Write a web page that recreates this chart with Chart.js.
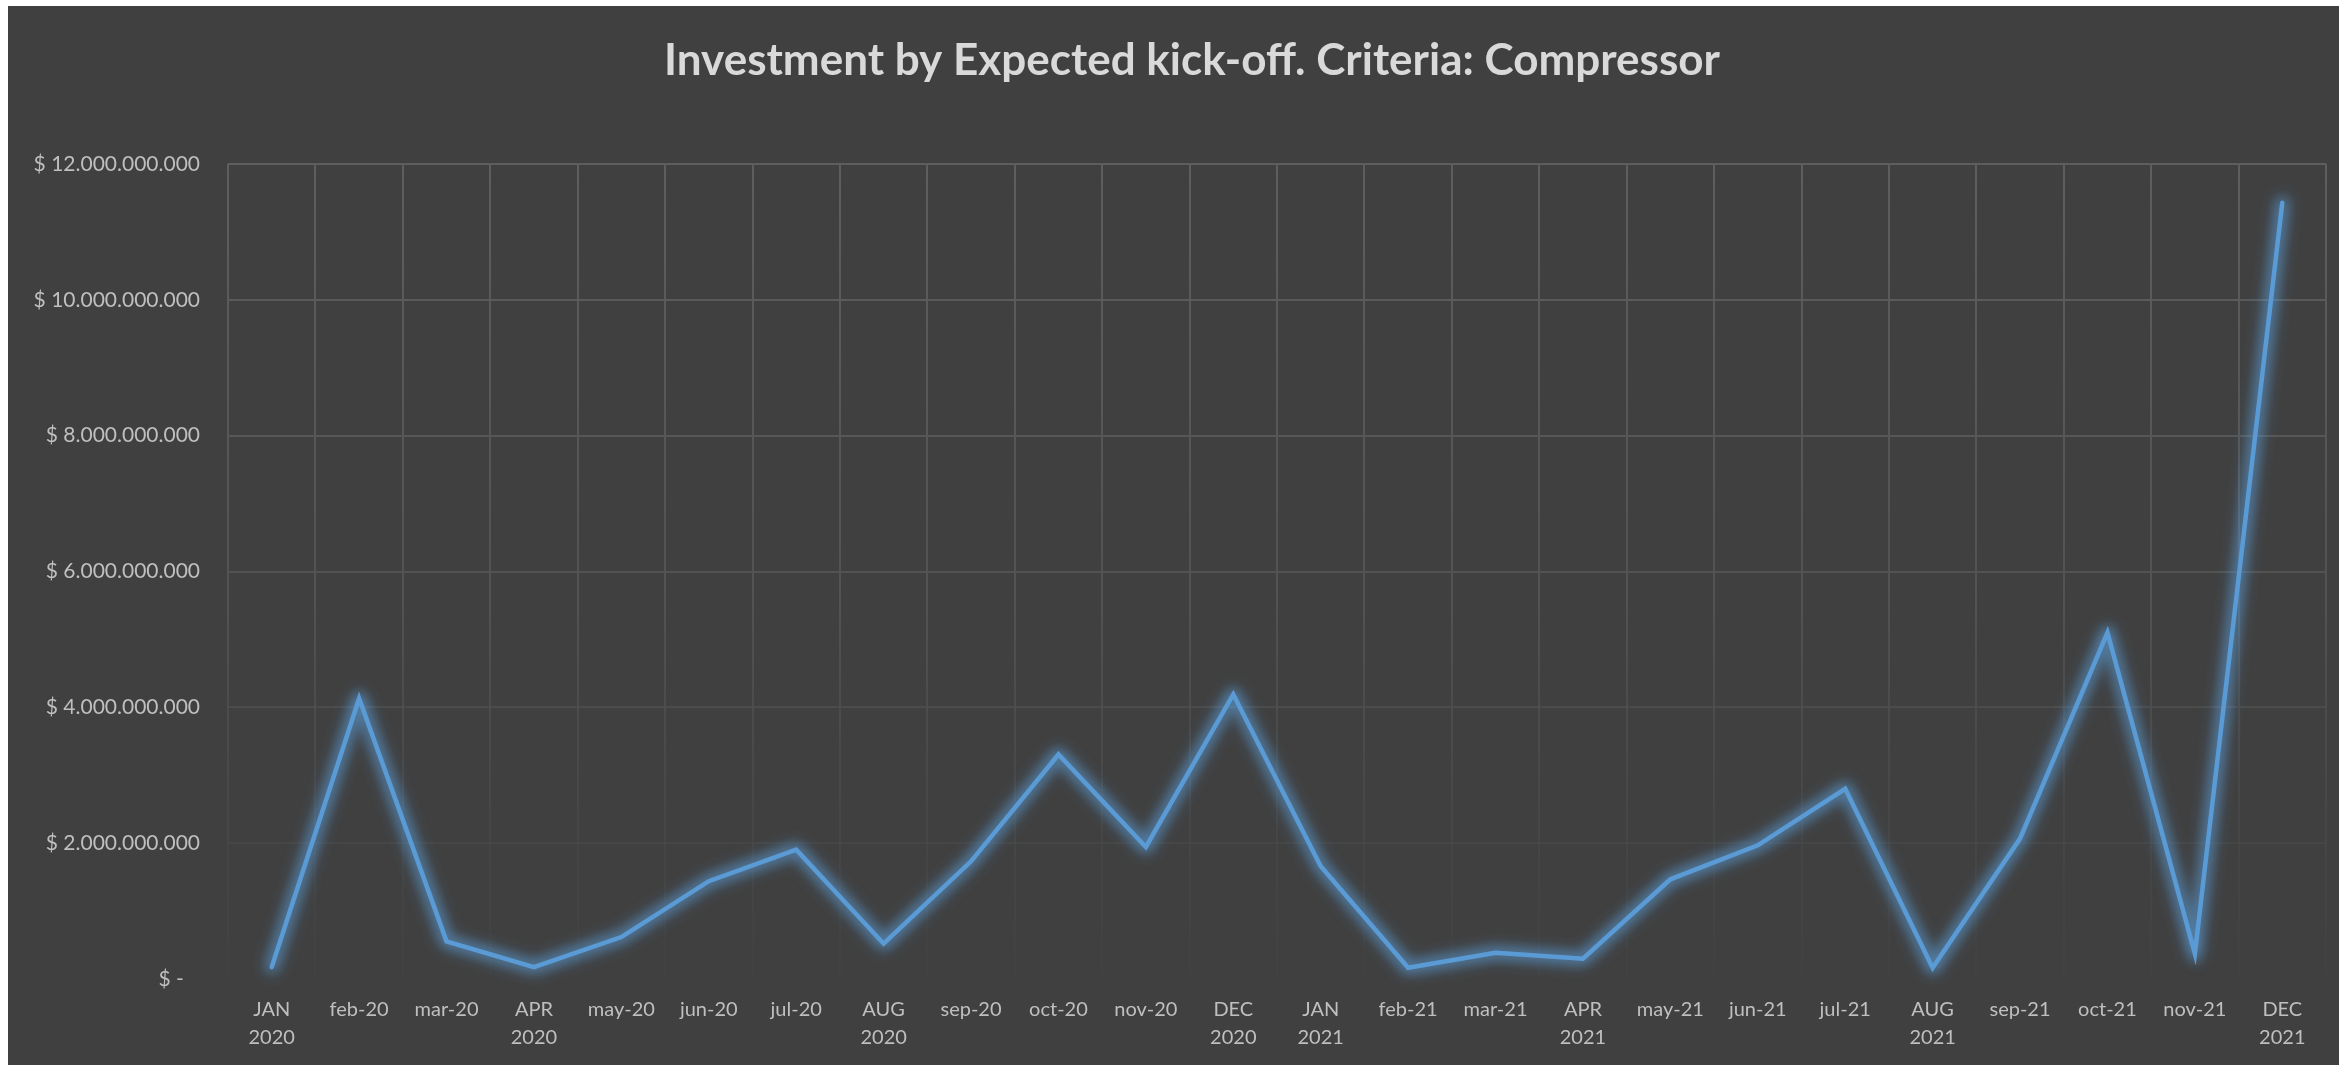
<!DOCTYPE html>
<html>
<head>
<meta charset="utf-8">
<script src="https://cdn.jsdelivr.net/npm/chart.js@4.4.1/dist/chart.umd.min.js"></script>
<style>
  html, body { margin: 0; padding: 0; background: #ffffff; width: 2339px; height: 1065px; overflow: hidden; }
  #wrap { position: absolute; left: 8px; top: 6px; width: 2331px; height: 1059px; background: #404040; }
  canvas { display: block; }
</style>
</head>
<body>
<div id="wrap"><canvas id="c"></canvas></div>
<script>
// ---- data ----
const chartTitle = 'Investment by Expected kick-off. Criteria: Compressor';
const monthLabels = [
  ['JAN', '2020'], 'feb-20', 'mar-20', ['APR', '2020'], 'may-20', 'jun-20', 'jul-20', ['AUG', '2020'],
  'sep-20', 'oct-20', 'nov-20', ['DEC', '2020'],
  ['JAN', '2021'], 'feb-21', 'mar-21', ['APR', '2021'], 'may-21', 'jun-21', 'jul-21', ['AUG', '2021'],
  'sep-21', 'oct-21', 'nov-21', ['DEC', '2021']
];
const investment = [
  175000000, 4130000000, 554000000, 175000000, 618000000, 1440000000, 1905000000, 520000000,
  1733000000, 3306000000, 1944000000, 4190000000,
  1660000000, 166000000, 387000000, 299000000, 1468000000, 1969000000, 2800000000, 166000000,
  2068000000, 5100000000, 373000000, 11430000000
];
const yTickMin = 0;
const yTickMax = 12000000000;
const yTickStep = 2000000000;

// ---- helpers ----
function fmtMoney(v) {
  if (v === 0) return '$ -   ';
  return '$ ' + String(Math.round(v)).replace(/\B(?=(\d{3})+(?!\d))/g, '.');
}
function gridGradient(ctx) {
  const chart = ctx.chart;
  const ca = chart.chartArea;
  if (!ca) return 'rgba(90,90,90,1)';
  const g = chart.ctx.createLinearGradient(0, ca.top, 0, ca.bottom);
  g.addColorStop(0, 'rgba(94,94,94,1)');
  g.addColorStop(0.55, 'rgba(82,82,82,1)');
  g.addColorStop(1, 'rgba(70,70,70,0.3)');
  return g;
}

// soft blue halo behind the line, following the library-computed point positions
const glowPlugin = {
  id: 'glow',
  beforeDatasetsDraw(chart) {
    const meta = chart.getDatasetMeta(0);
    const pts = meta.data;
    if (!pts || !pts.length) return;
    const c = chart.ctx;
    c.save();
    c.filter = 'blur(7px)';
    c.strokeStyle = 'rgba(91,155,213,0.45)';
    c.lineWidth = 16;
    c.lineJoin = 'round';
    c.lineCap = 'round';
    c.beginPath();
    pts.forEach((p, i) => { if (i === 0) c.moveTo(p.x, p.y); else c.lineTo(p.x, p.y); });
    c.stroke();
    c.restore();
    c.save();
    c.shadowColor = 'rgba(91,155,213,0.8)';
    c.shadowBlur = 12;
  },
  afterDatasetsDraw(chart) {
    chart.ctx.restore();
  }
};

// title drawn as canvas text, centred where the original places it
const titlePlugin = {
  id: 'offsetTitle',
  afterDraw(chart) {
    const c = chart.ctx;
    c.save();
    c.font = 'bold 44px Lato';
    c.fillStyle = '#d9d9d9';
    c.textAlign = 'center';
    c.textBaseline = 'middle';
    c.fillText(chartTitle, 1184, 55);
    c.restore();
  }
};

const canvas = document.getElementById('c');
canvas.width = 2331; canvas.height = 1059;
canvas.style.width = '2331px'; canvas.style.height = '1059px';

new Chart(canvas, {
  type: 'line',
  data: {
    labels: monthLabels,
    datasets: [{
      label: 'Investment',
      data: investment,
      borderColor: '#5b9bd5',
      borderWidth: 4.5,
      tension: 0,
      pointRadius: 0,
      pointHoverRadius: 0,
      fill: false,
      borderJoinStyle: 'miter',
      borderCapStyle: 'round'
    }]
  },
  options: {
    responsive: false,
    animation: false,
    devicePixelRatio: 1,
    layout: { padding: { left: 0, right: 13, top: 158, bottom: 0 } },
    plugins: {
      legend: { display: false },
      tooltip: { enabled: false },
      title: { display: false }
    },
    scales: {
      x: {
        type: 'category',
        offset: true,
        grid: { display: true, offset: true, color: gridGradient, lineWidth: 2, drawTicks: false },
        border: { display: false },
        afterFit(scale) { scale.height = 86; },
        ticks: {
          color: '#bfbfbf',
          font: { family: 'Lato', size: 20, lineHeight: 1.4 },
          padding: 17,
          maxRotation: 0,
          minRotation: 0,
          autoSkip: false
        }
      },
      y: {
        min: yTickMin,
        max: yTickMax,
        grid: {
          color: (ctx) => (ctx.tick && ctx.tick.value === 0) ? 'rgba(0,0,0,0)' : gridGradient(ctx),
          lineWidth: 2,
          drawTicks: false
        },
        border: { display: false },
        afterFit(scale) { scale.width = 220; },
        ticks: {
          stepSize: yTickStep,
          color: '#bfbfbf',
          font: { family: 'Lato', size: 21 },
          padding: 28,
          callback: (v) => fmtMoney(v)
        }
      }
    }
  },
  plugins: [glowPlugin, titlePlugin]
});
</script>
</body>
</html>
